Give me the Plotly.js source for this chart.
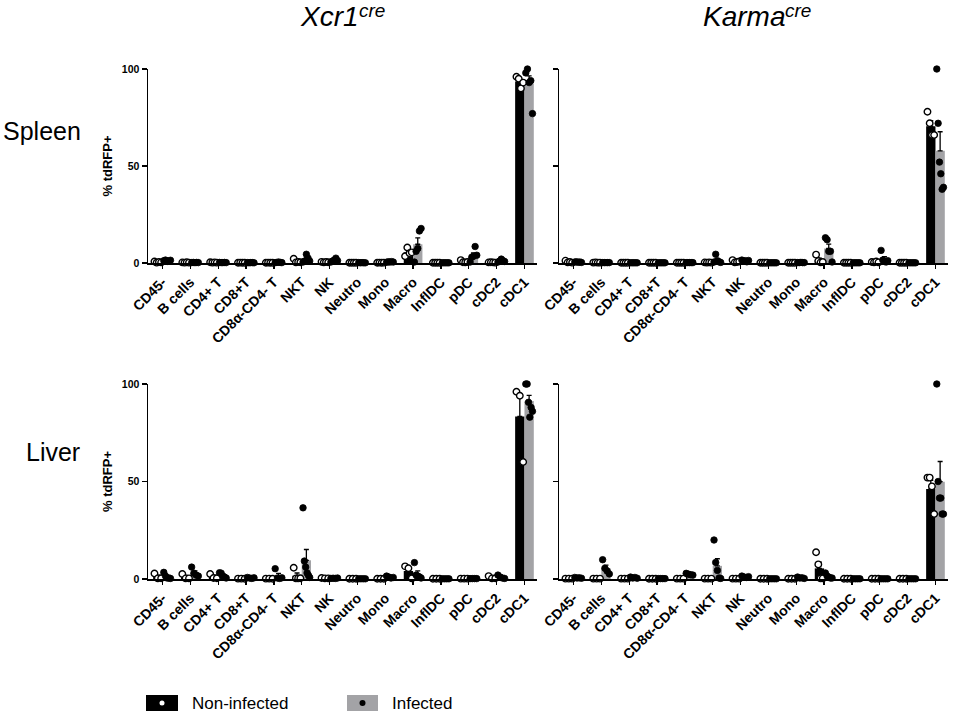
<!DOCTYPE html>
<html>
<head>
<meta charset="utf-8">
<script src="https://cdn.plot.ly/plotly-3.0.1.min.js"></script>
<style>html,body{margin:0;padding:0;background:#fff;}#chart{width:954px;height:713px;}</style>
</head>
<body>
<div id="chart"></div>
<script>
// ---------- DATA ----------
const categories = ['CD45-','B cells','CD4+ T','CD8+T','CD8\u03b1-CD4- T','NKT','NK','Neutro','Mono','Macro','InflDC','pDC','cDC2','cDC1'];
const yTicks = [0, 50, 100];
const groupNames = ['Non-infected', 'Infected'];
const organNames = ['Spleen', 'Liver'];
const strainNames = ['Xcr1', 'Karma'];
const strainSuffix = 'cre';

// Individual mice (% tdRFP+), Xcr1cre spleen
const xcr1SpleenNon = [[0.8,0.2,0.5,0.3],[0.3,0.2,0.4,0.2],[0.4,0.2,0.3,0.2],[0.1,0.2,0.1,0.1],[0.1,0.2,0.1,0.1],[2.2,0.3,0.5,0.4],[0.6,0.3,0.5,0.4],[0.1,0.1,0.1,0.1],[0.1,0.2,0.1,0.2],[3.5,8.0,5.0,5.5],[0.1,0.1,0.1,0.1],[1.5,0.4,0.3,0.5],[0.3,0.4,0.3,0.2],[96,95,90,93]];
const xcr1SpleenInf = [[1.2,1.5,0.8,1.0,1.4],[0.2,0.3,0.2,0.3,0.2],[0.3,0.2,0.2,0.3,0.2],[0.2,0.1,0.2,0.2,0.1],[0.2,0.3,0.5,0.3,0.2],[0.5,1.0,4.5,2.5,1.0],[0.5,1.0,1.5,2.5,1.2],[0.2,0.1,0.2,0.1,0.1],[0.4,0.6,0.5,0.7,0.5],[0.5,6.0,7.5,16.5,17.8],[0.1,0.1,0.1,0.1,0.1],[0.5,3.0,3.5,8.5,4.0],[0.5,1.0,2.0,1.2,0.8],[98,100,93,94,77]];
// Karmacre spleen
const karmaSpleenNon = [[1.2,0.3,0.5,0.2],[0.2,0.3,0.2,0.2],[0.1,0.1,0.1,0.1],[0.1,0.1,0.1,0.1],[0.1,0.1,0.1,0.1],[0.3,0.2,0.3,0.2],[1.5,0.3,0.5,0.8],[0.1,0.1,0.1,0.1],[0.1,0.1,0.1,0.1],[4.3,1.0,0.3,0.5],[0.1,0.1,0.1,0.1],[0.5,0.3,0.8,0.3],[0.1,0.1,0.1,0.1],[78,72,66,66]];
const karmaSpleenInf = [[0.5,0.6,0.4,0.5,0.3],[0.2,0.2,0.2,0.2,0.2],[0.1,0.1,0.1,0.1,0.1],[0.1,0.1,0.1,0.1,0.1],[0.2,0.2,0.2,0.2,0.2],[0.5,4.5,1.2,0.6,0.3],[1.5,1.0,1.2,0.6,1.3],[0.1,0.1,0.1,0.1,0.1],[0.2,0.2,0.3,0.2,0.2],[13,12,6,6,0.5],[0.1,0.1,0.1,0.1,0.1],[6.5,1.5,0.8,0.5,1.2],[0.1,0.1,0.1,0.1,0.1],[100,72,52,46,38,39]];
// Xcr1cre liver
const xcr1LiverNon = [[2.8,0.3,0.4],[2.6,0.3,0.3],[2.6,0.5,0.4],[0.2,0.2,0.1],[0.2,0.2,0.1],[5.8,0.3,0.3,0.4],[0.5,0.3,0.3],[0.1,0.1,0.1],[0.1,0.1,0.1],[6.5,5.5,0.3],[0.1,0.1,0.1],[0.2,0.2,0.2],[1.5,0.3,0.4],[96,94,60]];
const xcr1LiverInf = [[3.4,1.5,0.5,0.5,0.3],[6.1,3.0,2.0,1.5],[3.2,3.0,1.5,1.0,0.5],[0.8,0.5,0.3,0.6],[5.3,0.5,0.3,0.6],[36.5,9.2,6.1,3.1,1.9,0.8],[0.3,0.4,0.3,0.5],[0.1,0.1,0.1,0.1],[1.5,1.0,0.5,0.8],[8.4,2.0,1.5,1.0,0.5],[0.1,0.1,0.1,0.1],[0.2,0.2,0.2,0.2],[2.0,1.0,0.5,0.3],[100,100,90.6,83,88,86]];
// Karmacre liver
const karmaLiverNon = [[0.2,0.2,0.2],[0.2,0.2,0.2],[0.2,0.2,0.2],[0.1,0.1,0.1],[0.2,0.2,0.2],[0.2,0.2,0.2],[0.2,0.2,0.2],[0.1,0.1,0.1],[0.1,0.1,0.1],[13.7,7.5,0.3,0.3],[0.1,0.1,0.1],[0.1,0.1,0.1],[0.1,0.1,0.1],[52,52,47.5,33.3]];
const karmaLiverInf = [[0.8,0.5,0.6,0.4],[9.9,5.5,4.1,2.6],[1.0,0.5,0.8,0.4],[0.2,0.2,0.2,0.2],[2.9,2.5,2.2,2.0],[20,8.5,4.4,0.5,0.3],[1.5,1.0,0.8,1.2],[0.1,0.1,0.1,0.1],[1.0,0.5,0.6,0.3],[3.1,1.5,1.0,0.5,0.5],[0.1,0.1,0.1,0.1],[0.1,0.1,0.1,0.1],[0.1,0.1,0.1,0.1],[100,50,41.5,41.5,33.3,33.3]];

// ---------- BUILD ----------
const FONT = 'Liberation Sans, Arial, Helvetica, sans-serif';
const BLACK = '#000000', GRAY = '#a3a3a6';
const HALF = 0.1675; // half of a group slot = one bar width

function mean(a){ return a.reduce((s,v)=>s+v,0)/a.length; }
function sem(a){ const m = mean(a); if(a.length<2) return 0; const v = a.reduce((s,x)=>s+(x-m)*(x-m),0)/(a.length-1); return Math.sqrt(v)/Math.sqrt(a.length); }

const panels = [
  {non: xcr1SpleenNon, inf: xcr1SpleenInf, xa:'x',  ya:'y'},
  {non: karmaSpleenNon, inf: karmaSpleenInf, xa:'x2', ya:'y2'},
  {non: xcr1LiverNon, inf: xcr1LiverInf, xa:'x3', ya:'y3'},
  {non: karmaLiverNon, inf: karmaLiverInf, xa:'x4', ya:'y4'}
];

const idx = categories.map((c,i)=>i);
const traces = [];
panels.forEach((p) => {
  [[p.non, BLACK, 0], [p.inf, GRAY, 1]].forEach(([data, col, g]) => {
    traces.push({
      type:'bar', x: idx, y: data.map(mean), xaxis: p.xa, yaxis: p.ya,
      name: groupNames[g], showlegend:false, hoverinfo:'skip',
      marker:{color: col, line:{width:0}},
      error_y:{type:'data', symmetric:false, array: data.map(sem), arrayminus: data.map(()=>0), color: BLACK, thickness:1.3, width:2.5}
    });
  });
});
panels.forEach((p) => {
  [[p.non, 0], [p.inf, 1]].forEach(([data, g]) => {
    const xs = [], ys = [];
    data.forEach((pts, i) => {
      const c = i + (g === 0 ? -HALF : HALF);
      const n = pts.length;
      pts.forEach((v, k) => {
        xs.push(c + (n > 1 ? (k/(n-1) - 0.5) * 0.24 : 0));
        ys.push(v);
      });
    });
    traces.push({
      type:'scatter', mode:'markers', x: xs, y: ys, xaxis: p.xa, yaxis: p.ya,
      showlegend:false, hoverinfo:'skip', cliponaxis:false,
      marker: g === 0 ? {size:6.5, color:'#ffffff', line:{color:BLACK, width:1.4}}
                      : {size:6.5, color:BLACK, line:{color:BLACK, width:0.8}}
    });
  });
});

const W = 954, H = 713;
const leftDom = [148/W, 537/W], rightDom = [559/W, 948/W];
const topDom = [(H-263)/H, (H-69)/H], botDom = [(H-579)/H, (H-384)/H];

function xAxis(dom, anchor){
  return {domain: dom, anchor: anchor, range:[-0.52, 13.45], tickmode:'array', tickvals: idx, ticktext: categories,
    tickangle:-45, ticks:'outside', ticklen:4, tickwidth:1.3, tickcolor:BLACK, showline:true, linewidth:1.5, linecolor:BLACK,
    showgrid:false, zeroline:false, automargin:false, fixedrange:true,
    tickfont:{family:FONT, size:14, color:BLACK, weight:'bold'}};
}
function yAxis(dom, anchor, labels){
  const a = {domain: dom, anchor: anchor, range:[0,100], tickmode:'array', tickvals: yTicks, ticktext: yTicks.map(String),
    ticks:'outside', ticklen:5, tickwidth:1.3, tickcolor:BLACK, showline:true, linewidth:1.5, linecolor:BLACK,
    showgrid:false, zeroline:false, automargin:false, fixedrange:true, showticklabels: labels,
    tickfont:{family:FONT, size:10.5, color:BLACK, weight:'bold'}};
  if(labels){ a.title = {text:'% tdRFP+', font:{family:FONT, size:13, color:BLACK, weight:'bold'}, standoff:6}; }
  return a;
}

function txt(text, xpx, ypx, xanchor, size, italic){
  return {text: text, x: xpx/W, y: 1 - ypx/H, xref:'paper', yref:'paper', xanchor: xanchor, yanchor:'middle',
    showarrow:false, font:{family:FONT, size:size, color:BLACK, style: italic ? 'italic' : 'normal'}};
}

const layout = {
  width: W, height: H, margin:{l:0,r:0,t:0,b:0}, paper_bgcolor:'#fff', plot_bgcolor:'rgba(0,0,0,0)',
  barmode:'group', bargap:0.33, bargroupgap:0, showlegend:false,
  font:{family:FONT, color:BLACK},
  xaxis: xAxis(leftDom,'y'), yaxis: yAxis(topDom,'x', true),
  xaxis2: xAxis(rightDom,'y2'), yaxis2: yAxis(topDom,'x2', false),
  xaxis3: xAxis(leftDom,'y3'), yaxis3: yAxis(botDom,'x3', true),
  xaxis4: xAxis(rightDom,'y4'), yaxis4: yAxis(botDom,'x4', false),
  annotations: [
    txt(strainNames[0], 361, 16, 'right', 28, true),
    txt(strainSuffix, 357, 11, 'left', 19, true),
    txt(strainNames[1], 787, 16, 'right', 28, true),
    txt(strainSuffix, 783, 11, 'left', 19, true),
    txt(organNames[0], 83, 131, 'right', 25, false),
    txt(organNames[1], 82, 452, 'right', 25, false),
    txt(groupNames[0], 190, 703, 'left', 17, false),
    txt(groupNames[1], 390, 703, 'left', 17, false)
  ],
  shapes: [
    {type:'rect', xref:'paper', yref:'paper', x0:146/W, x1:178/W, y0:1-711/H, y1:1-695/H, fillcolor:BLACK, line:{width:0}},
    {type:'circle', xref:'paper', yref:'paper', x0:159.5/W, x1:164.5/W, y0:1-705.5/H, y1:1-700.5/H, fillcolor:'#fff', line:{width:0}},
    {type:'rect', xref:'paper', yref:'paper', x0:347/W, x1:378/W, y0:1-711/H, y1:1-695/H, fillcolor:GRAY, line:{width:0}},
    {type:'circle', xref:'paper', yref:'paper', x0:359.5/W, x1:365.5/W, y0:1-706/H, y1:1-700/H, fillcolor:BLACK, line:{width:0}}
  ]
};

Plotly.newPlot('chart', traces, layout, {displayModeBar:false, staticPlot:true});
</script>
</body>
</html>
